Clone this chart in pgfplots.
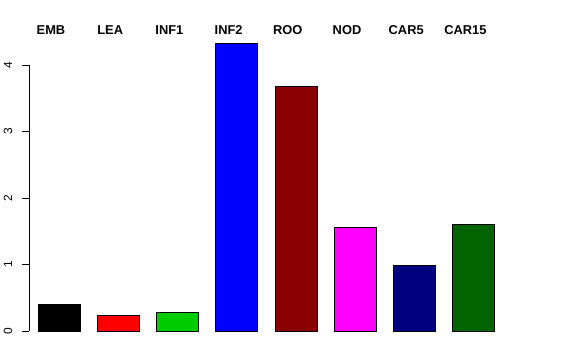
\documentclass[border=0pt]{standalone}
\usepackage{fontspec}
\setmainfont{Liberation Sans}
\usepackage{pgfplots}
\pgfplotsset{compat=1.18}
\definecolor{rgreen}{RGB}{0,205,0}
\definecolor{rdarkred}{RGB}{139,0,0}
\definecolor{rmagenta}{RGB}{255,0,255}
\definecolor{rnavy}{RGB}{0,0,128}
\definecolor{rdarkgreen}{RGB}{0,100,0}
\tikzset{
  tl/.style={anchor=base, rotate=90, inner sep=0pt, font=\fontsize{12}{14}\selectfont},
  bl/.style={anchor=base, inner sep=0pt, font=\fontsize{12.9}{15}\selectfont\bfseries},
}
\begin{document}
\begin{tikzpicture}
\begin{axis}[
  scale only axis, width=576bp, height=360bp,
  xmin=0, xmax=576, ymin=-0.4361, ymax=4.9774,
  hide axis, clip=false,
  every axis plot/.append style={ybar, bar width=42, bar shift=0pt, draw=black, line width=0.6bp},
]
\path (rel axis cs:0,0) rectangle (rel axis cs:1,1);
\addplot[fill=black] coordinates {(59,0.40)};
\addplot[fill=red] coordinates {(118.2,0.23)};
\addplot[fill=rgreen] coordinates {(177.4,0.28)};
\addplot[fill=blue] coordinates {(236.6,4.33)};
\addplot[fill=rdarkred] coordinates {(295.8,3.68)};
\addplot[fill=rmagenta] coordinates {(355,1.56)};
\addplot[fill=rnavy] coordinates {(414.2,0.99)};
\addplot[fill=rdarkgreen] coordinates {(473.4,1.61)};
% y axis
\draw[black, line width=0.75bp] (axis cs:29,0) -- (axis cs:29,4);
\draw[black, line width=0.75bp] (axis cs:29,0) -- (axis cs:22,0);
\draw[black, line width=0.75bp] (axis cs:29,1) -- (axis cs:22,1);
\draw[black, line width=0.75bp] (axis cs:29,2) -- (axis cs:22,2);
\draw[black, line width=0.75bp] (axis cs:29,3) -- (axis cs:22,3);
\draw[black, line width=0.75bp] (axis cs:29,4) -- (axis cs:22,4);
\node[tl] at (axis cs:12,0) {0};
\node[tl] at (axis cs:12,1) {1};
\node[tl] at (axis cs:12,2) {2};
\node[tl] at (axis cs:12,3) {3};
\node[tl] at (axis cs:12,4) {4};
% top labels
\node[bl] at (axis cs:51,4.466) {EMB};
\node[bl] at (axis cs:110.2,4.466) {LEA};
\node[bl] at (axis cs:169.4,4.466) {INF1};
\node[bl] at (axis cs:228.6,4.466) {INF2};
\node[bl] at (axis cs:287.8,4.466) {ROO};
\node[bl] at (axis cs:347,4.466) {NOD};
\node[bl] at (axis cs:406.2,4.466) {CAR5};
\node[bl] at (axis cs:465.4,4.466) {CAR15};
\end{axis}
\end{tikzpicture}
\end{document}
